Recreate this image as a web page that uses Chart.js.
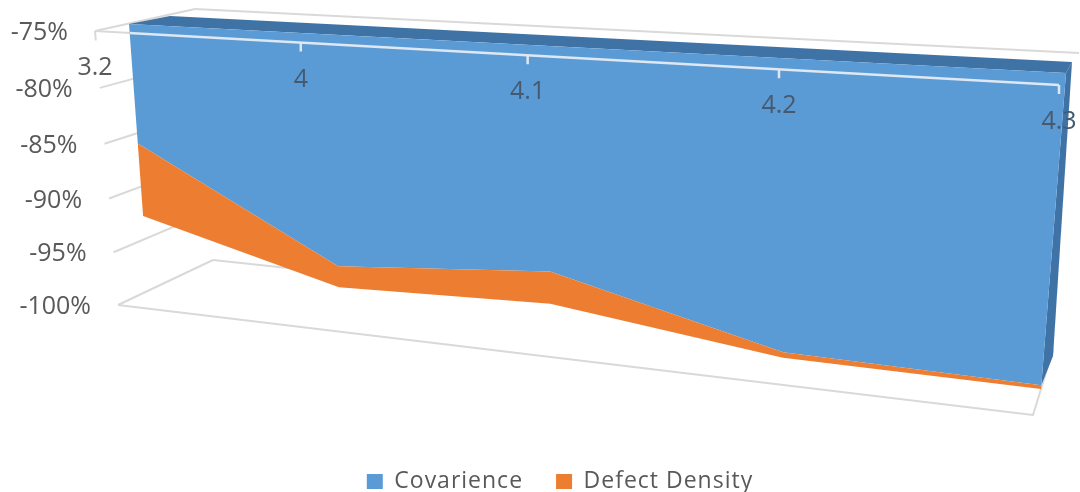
<!DOCTYPE html>
<html>
<head>
<meta charset="utf-8">
<title>Covarience and Defect Density</title>
<script src="https://cdn.jsdelivr.net/npm/chart.js@4/dist/chart.umd.min.js"></script>
<style>
  html, body { margin: 0; background: #fff; }
  canvas { display: block; }
</style>
</head>
<body>
<canvas id="chart" width="1080" height="492"></canvas>
<script>
const categories = ['3.2', '4', '4.1', '4.2', '4.3'];
const covarience = [-85.7, -95.2, -93.7, -98.4, -98.65];
const defectDensity = [-6.7, -1.9, -2.8, -0.45, -0.3];
const yTicks = [-75, -80, -85, -90, -95, -100];

const BLUE = '#5b9bd5';
const ORANGE = '#ed7d31';
const DARK_BLUE = '#3f73a6';
const GRID = '#d9d9d9';
const TEXT = '#595959';
const TEXT_ON_BLUE = '#46596f';

// square to quad, corners are top-left, top-right, bottom-right, bottom-left
function quadMap(q) {
  const [[x0, y0], [x1, y1], [x2, y2], [x3, y3]] = q;
  const dx1 = x1 - x2, dx2 = x3 - x2, sx = x0 - x1 + x2 - x3;
  const dy1 = y1 - y2, dy2 = y3 - y2, sy = y0 - y1 + y2 - y3;
  const den = dx1 * dy2 - dx2 * dy1;
  const g = (sx * dy2 - dx2 * sy) / den;
  const h = (dx1 * sy - sx * dy1) / den;
  const a = x1 - x0 + g * x1, b = x3 - x0 + h * x3;
  const d = y1 - y0 + g * y1, e = y3 - y0 + h * y3;
  return (u, v) => {
    const w = g * u + h * v + 1;
    return [(a * u + b * v + x0) / w, (d * u + e * v + y0) / w];
  };
}

// the planes of the 3d box as seen in the picture
const frontPlane = quadMap([[95, 31], [1059, 85], [1033, 415], [118, 305]]);
const backPlane = quadMap([[195, 9], [1079, 53], [1053, 350], [213, 260]]);
const areaPlane = quadMap([[129, 24], [1066, 73], [1040, 402], [149, 296]]);
const areaBack = quadMap([[170, 16], [1072, 62], [1052, 372], [190, 290]]);

function polyPath(ctx, pts) {
  ctx.beginPath();
  pts.forEach((p, i) => (i ? ctx.lineTo(p[0], p[1]) : ctx.moveTo(p[0], p[1])));
}

function strokeLine(ctx, pts, color, width) {
  polyPath(ctx, pts);
  ctx.strokeStyle = color;
  ctx.lineWidth = width;
  ctx.stroke();
}

const box3d = {
  id: 'box3d',
  beforeLayout(chart) { chart.ctx.letterSpacing = '1px'; },
  beforeDraw(chart) { chart.ctx.letterSpacing = '1px'; },
  beforeDatasetsDraw(chart) {
    const ctx = chart.ctx;
    const { x, y } = chart.scales;
    const area = chart.chartArea;
    const toU = px => (px - area.left) / (area.right - area.left);
    const toV = py => (py - area.top) / (area.bottom - area.top);
    const vOf = val => toV(y.getPixelForValue(val));
    const us = categories.map((c, i) => toU(x.getPixelForValue(i)));
    const last = us.length - 1;
    const covV = chart.getDatasetMeta(0).data.map(p => toV(p.y));
    const defV = chart.getDatasetMeta(1).data.map(p => toV(p.y));

    ctx.save();
    ctx.lineJoin = 'round';

    // left wall, back wall and floor
    yTicks.forEach(t => {
      strokeLine(ctx, [frontPlane(0, vOf(t)), backPlane(0, vOf(t))], GRID, 2);
    });
    strokeLine(ctx, [backPlane(0, 0), backPlane(1, 0)], GRID, 2);
    strokeLine(ctx, [backPlane(0, 1), backPlane(1, 1), frontPlane(1, 1), frontPlane(0, 1)], GRID, 2);
    strokeLine(ctx, [frontPlane(0, 0), frontPlane(1, 0)], GRID, 2);
    strokeLine(ctx, [frontPlane(0, 0), frontPlane(0, 0.033)], GRID, 2);

    // depth faces
    const topEdge = us.map(u => areaPlane(u, 0));
    const covEdge = us.map((u, i) => areaPlane(u, covV[i]));
    const defEdge = us.map((u, i) => areaPlane(u, defV[i]));
    polyPath(ctx, [areaPlane(0, 0), areaBack(0, 0), areaBack(1, 0), areaPlane(1, 0)]);
    ctx.fillStyle = DARK_BLUE;
    ctx.fill();
    polyPath(ctx, [areaPlane(1, 0), areaBack(1, 0), areaBack(1, covV[last]), areaPlane(1, covV[last])]);
    ctx.fill();

    // the two stacked areas
    const blue = topEdge.concat(covEdge.slice().reverse());
    polyPath(ctx, blue);
    ctx.fillStyle = chart.data.datasets[0].backgroundColor;
    ctx.fill();
    polyPath(ctx, covEdge.concat(defEdge.slice().reverse()));
    ctx.fillStyle = chart.data.datasets[1].backgroundColor;
    ctx.fill();

    // axis line and ticks show pale over the blue
    ctx.save();
    polyPath(ctx, blue);
    ctx.clip();
    strokeLine(ctx, [frontPlane(0, 0), frontPlane(1, 0)], '#dfe8f2', 2.5);
    us.forEach(u => {
      const p = frontPlane(u, 0);
      strokeLine(ctx, [p, [p[0], p[1] + 9]], '#dfe8f2', 2.5);
    });
    ctx.restore();

    // tick labels
    ctx.letterSpacing = '0px';
    ctx.font = '25px "Open Sans"';
    ctx.textBaseline = 'middle';
    ctx.textAlign = 'right';
    ctx.fillStyle = TEXT;
    yTicks.forEach(t => {
      const p = frontPlane(0, vOf(t));
      ctx.fillText(t + '%', p[0] - 27, p[1] + 2);
    });
    ctx.textAlign = 'center';
    categories.forEach((c, i) => {
      const p = frontPlane(us[i], 0);
      ctx.fillStyle = i === 0 ? TEXT : TEXT_ON_BLUE;
      ctx.fillText(c, p[0], p[1] + 37);
    });
    ctx.restore();
  }
};

new Chart(document.getElementById('chart'), {
  type: 'line',
  data: {
    labels: categories,
    datasets: [
      { label: 'Covarience', data: covarience, backgroundColor: BLUE, borderColor: BLUE, borderWidth: 0, showLine: false, pointRadius: 0 },
      { label: 'Defect Density', data: defectDensity, backgroundColor: ORANGE, borderColor: ORANGE, borderWidth: 0, showLine: false, pointRadius: 0 }
    ]
  },
  options: {
    responsive: false,
    animation: false,
    layout: { padding: { left: 40, bottom: -11 } },
    scales: {
      x: { type: 'category', display: false, offset: false },
      y: { display: false, stacked: true, min: -100, max: -75 }
    },
    plugins: {
      tooltip: { enabled: false },
      legend: {
        position: 'bottom',
        labels: {
          boxWidth: 16,
          boxHeight: 15,
          padding: 33,
          color: TEXT,
          font: { family: '"Open Sans"', size: 23 }
        }
      }
    }
  },
  plugins: [box3d]
});
</script>
</body>
</html>
